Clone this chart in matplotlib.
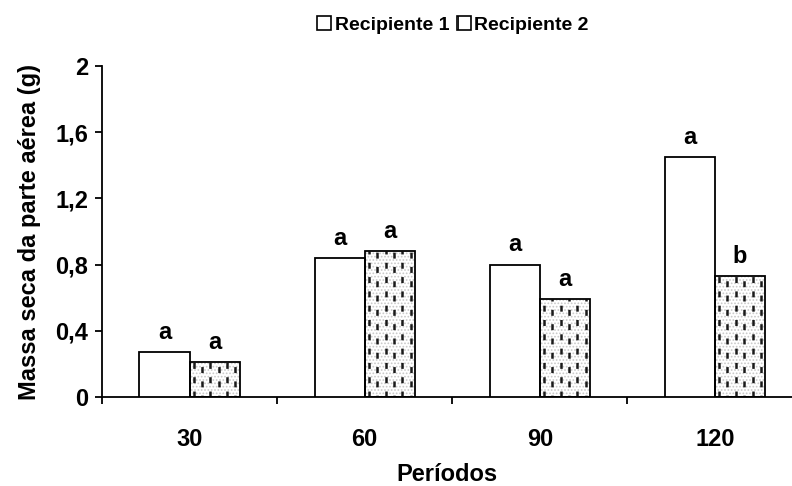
import matplotlib
matplotlib.use("Agg")
import matplotlib.pyplot as plt
from matplotlib.patches import Rectangle
import numpy as np

plt.rcParams['font.family'] = ['Liberation Sans', 'DejaVu Sans']
plt.rcParams['font.weight'] = 'bold'
plt.rcParams['lines.scale_dashes'] = False
plt.rcParams['hatch.linewidth'] = 0.8

periodos = ['30', '60', '90', '120']
recipiente1 = [0.27, 0.84, 0.80, 1.45]
recipiente2 = [0.21, 0.88, 0.59, 0.73]
letras1 = ['a', 'a', 'a', 'a']
letras2 = ['a', 'a', 'a', 'b']
yticks = [0, 0.4, 0.8, 1.2, 1.6, 2.0]
yticklabels = ['0', '0,4', '0,8', '1,2', '1,6', '2']

FS = 17

fig = plt.figure(figsize=(7.92, 4.86), dpi=100)
ax = fig.add_axes([102/792, (486-397)/486, 1 - 102/792, (397-66)/486])

x = np.arange(len(periodos))
w = 0.286

ax.bar(x - w/2, recipiente1, w, facecolor='white', edgecolor='black', linewidth=1.3, zorder=3)
# hatched bars: stipple background
b2 = ax.bar(x + w/2, recipiente2, w, facecolor='white', edgecolor='#c8c8c8', hatch='.....', linewidth=0, zorder=2)
for rect in b2:
    x0 = rect.get_x(); bw = rect.get_width(); h = rect.get_height()
    ncol = 6
    for k in range(ncol):
        xc = x0 + bw * (k + 0.5) / ncol
        off = 0 if k % 2 == 0 else 3
        ax.plot([xc, xc], [0, h], color='#1a1a1a', lw=1.8,
                linestyle=(off, (4.3, 6.0)), solid_capstyle='butt', zorder=3, clip_on=True)
ax.bar(x + w/2, recipiente2, w, fill=False, edgecolor='black', linewidth=1.3, zorder=4)

for xi, v, t in zip(x - w/2, recipiente1, letras1):
    ax.annotate(t, (xi, v), xytext=(0, 6), textcoords='offset points', ha='center', va='bottom',
                fontsize=FS, fontweight='bold')
for xi, v, t in zip(x + w/2, recipiente2, letras2):
    ax.annotate(t, (xi, v), xytext=(0, 6), textcoords='offset points', ha='center', va='bottom',
                fontsize=FS, fontweight='bold')

ax.set_ylim(0, 2)
ax.set_xlim(-0.5, 3.44)
ax.set_yticks(yticks)
ax.set_yticklabels(yticklabels, fontsize=FS, fontweight='bold')
ax.set_xticks(x)
ax.set_xticklabels(periodos, fontsize=FS, fontweight='bold')
ax.tick_params(axis='x', length=0, pad=22)
ax.set_xticks(np.arange(len(periodos)) - 0.5, minor=True)
ax.tick_params(axis='x', which='minor', length=5, width=1.3, direction='out')
ax.tick_params(axis='y', length=5, width=1.3, direction='out', pad=5)
for s in ['top', 'right']:
    ax.spines[s].set_visible(False)
ax.spines['left'].set_linewidth(1.3)
ax.spines['bottom'].set_linewidth(1.3)

ax.set_xlabel('Períodos', fontsize=FS, fontweight='bold', labelpad=9)
ax.set_ylabel('Massa seca da parte aérea (g)', fontsize=FS, fontweight='bold', labelpad=10)

h1 = Rectangle((0, 0), 1, 1, facecolor='white', edgecolor='black', linewidth=1.2)
h2 = Rectangle((0, 0), 1, 1, facecolor='white', edgecolor='black', linewidth=1.2, hatch='|')
fig.legend([h1, h2], ['Recipiente 1', 'Recipiente 2'], loc='center', bbox_to_anchor=(0.572, 0.948),
           ncol=2, frameon=False, handlelength=0.7, handleheight=0.7,
           handletextpad=0.2, columnspacing=0.4, prop={'weight': 'bold', 'size': 14})

fig.savefig('out.png', dpi=100)
